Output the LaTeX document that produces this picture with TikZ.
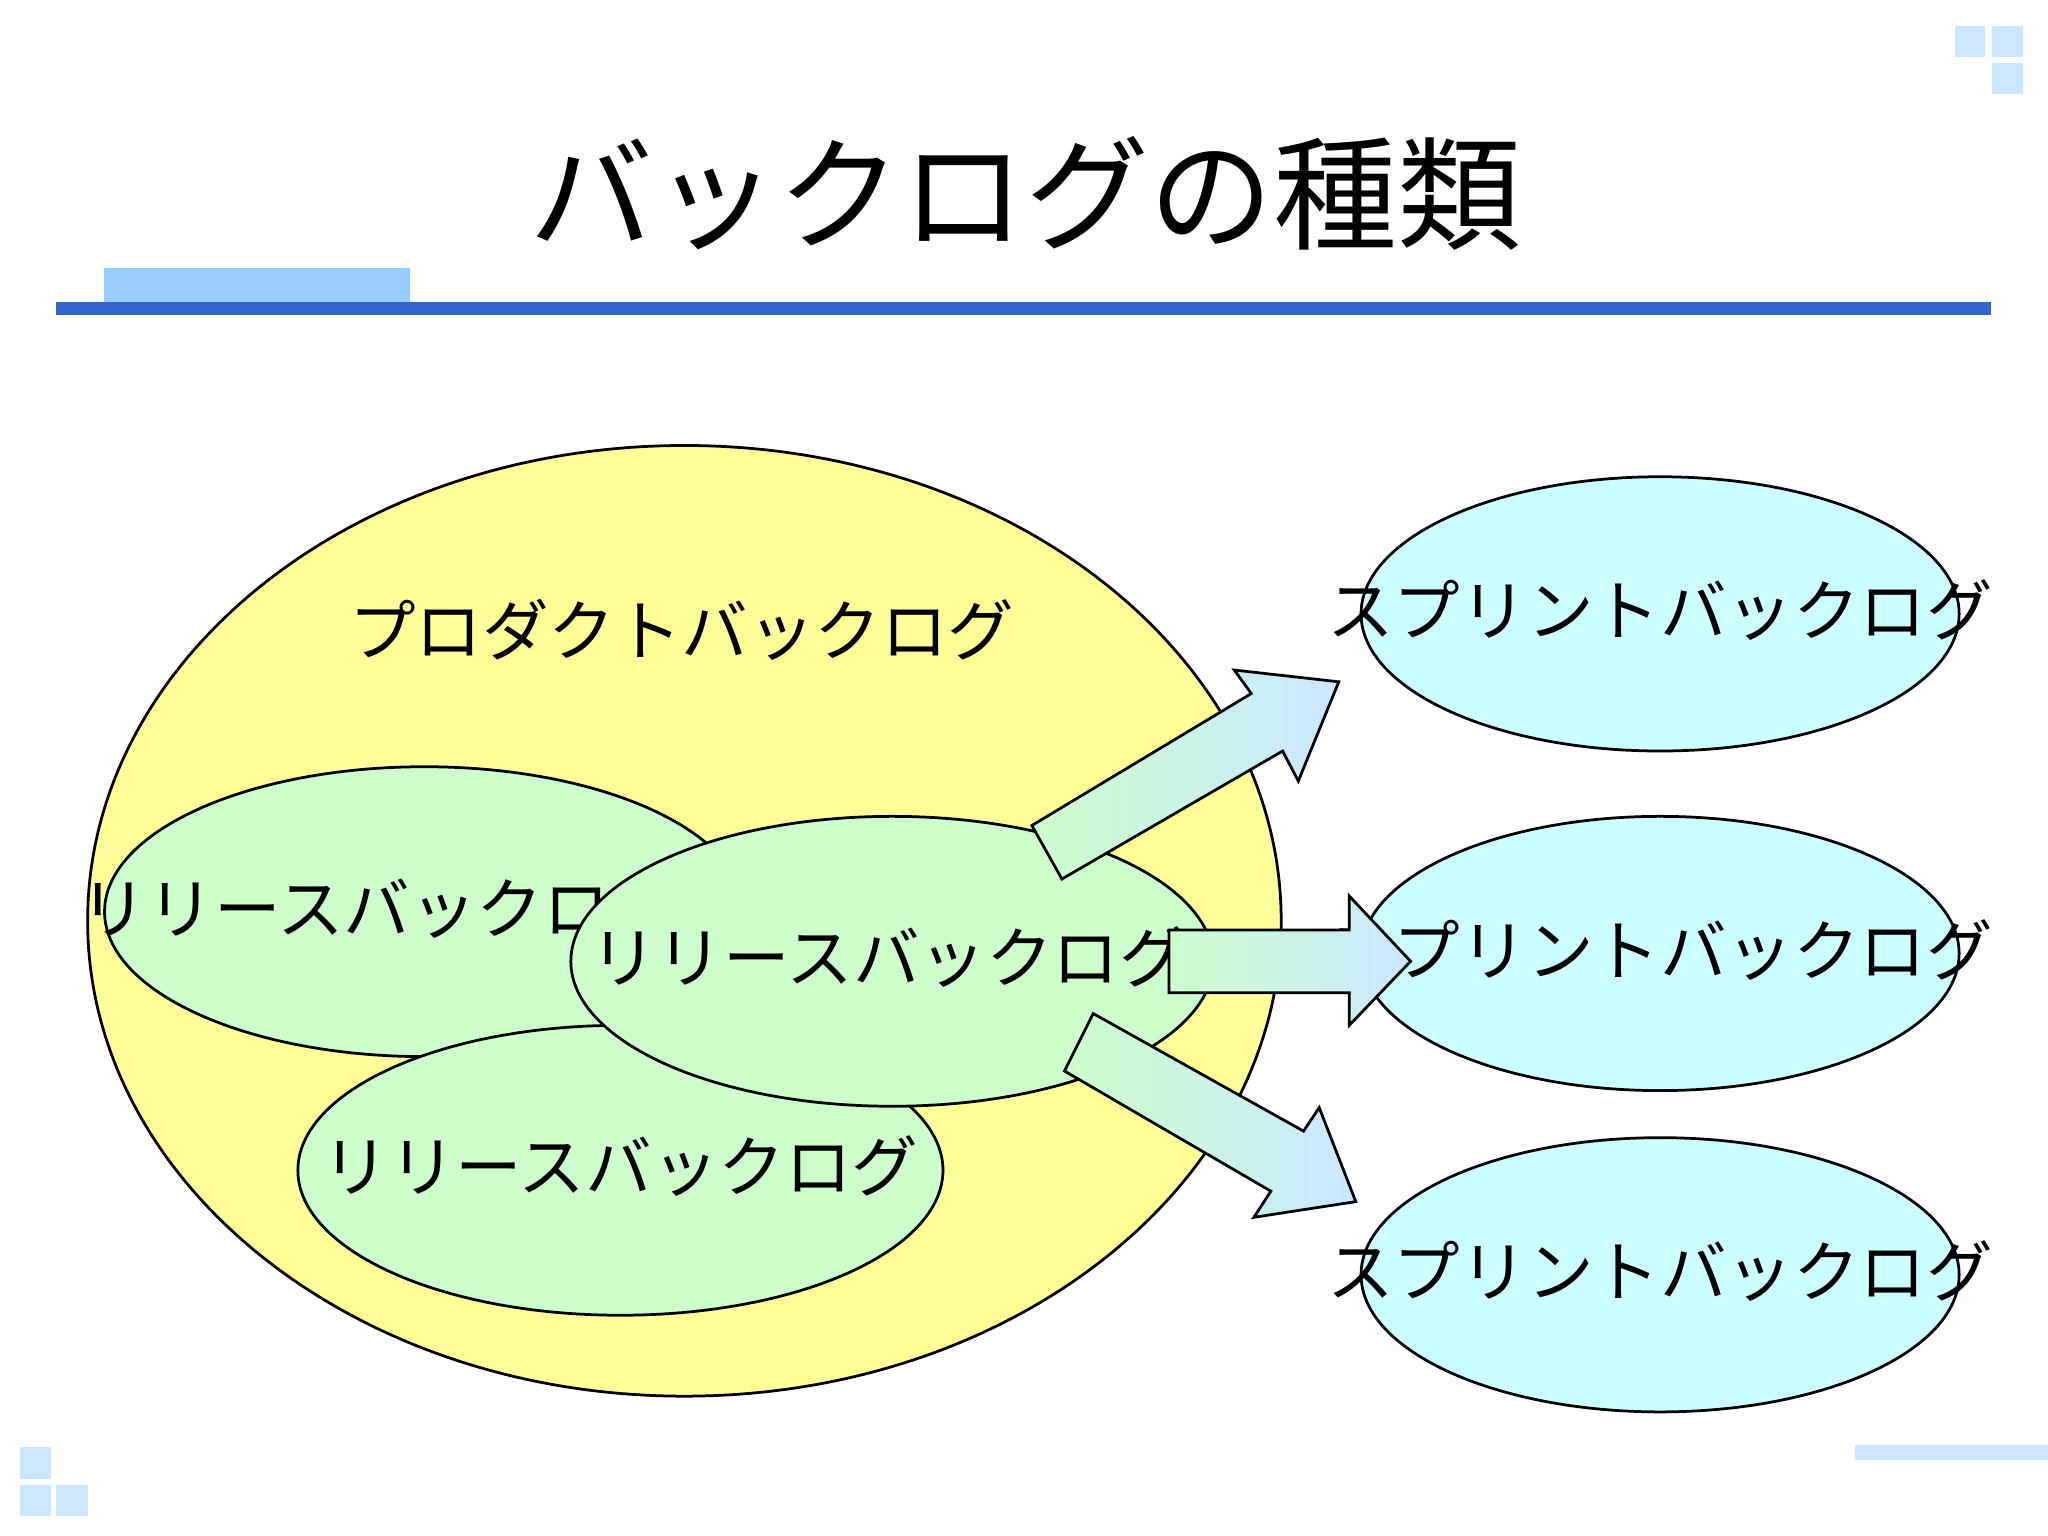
\documentclass[tikz,border=0pt]{standalone}
\usepackage{fontspec}
\setmainfont{Noto Sans CJK JP}
\usetikzlibrary{shapes.geometric}
\definecolor{ylw}{HTML}{FFFF99}
\definecolor{grn}{HTML}{CCFFCC}
\definecolor{cyn}{HTML}{CCFFFF}
\definecolor{lblue}{HTML}{CCE6FF}
\definecolor{mblue}{HTML}{99CCFF}
\definecolor{dblue}{HTML}{3366CC}
\begin{document}
\begin{tikzpicture}[x=0.02cm,y=-0.02cm,
  ell/.style={ellipse,draw=black,line width=1.2pt,inner sep=0pt},
  lbl/.style={font=\fontsize{29}{32}\selectfont},
  arr/.style={draw=black,line width=1.2pt,left color=grn,right color=lblue},
  sq/.style={fill=lblue,draw=none}]
\useasboundingbox (0,0) rectangle (1568,1176);
\fill[white] (0,0) rectangle (1568,1176);
% decorations
\fill[sq] (1497,20) rectangle (1520,44);
\fill[sq] (1525,20) rectangle (1549,44);
\fill[sq] (1525,48) rectangle (1549,72);
\fill[sq] (15,1108) rectangle (39,1132);
\fill[sq] (15,1137) rectangle (39,1161);
\fill[sq] (43,1137) rectangle (67,1161);
\fill[sq] (1420,1106) rectangle (1568,1118);
\fill[mblue] (80,205) rectangle (314,231);
\fill[dblue] (43,231) rectangle (1524,241);
\node[font=\fontsize{54}{60}\selectfont] (title) at (785,148) {バックログの種類};
% product backlog
\node[ell,fill=ylw,minimum width=914\pgflinewidth*0+18.28cm,minimum height=14.56cm] (pb) at (524,705) {};
\node[lbl] (pbt) at (522,482) {プロダクトバックログ};
% release backlogs
\node[ell,fill=grn,minimum width=9.8cm,minimum height=4.44cm] (r1) at (325,698) {};
\node[lbl] (r1t) at (290,695) {リリースバックログ};
\node[ell,fill=grn,minimum width=9.88cm,minimum height=4.44cm] (r3) at (475,896) {};
\node[lbl] (r3t) at (475,893) {リリースバックログ};
\node[ell,fill=grn,minimum width=9.84cm,minimum height=4.44cm] (r2) at (683,736) {};
\node[lbl] (r2t) at (680,733) {リリースバックログ};
% sprint backlogs
\foreach \n/\y in {s1/470,s2/730,s3/976}{
  \node[ell,fill=cyn,minimum width=9.16cm,minimum height=4.2cm] (\n) at (1271,\y) {};
  \node[lbl] (\n t) at (1271,\y-3) {スプリントバックログ};
}
% arrows
\path[arr] (790,632) -- (958,531) -- (945,513) -- (1025,522) -- (994,598) -- (982,575) -- (813,673) -- cycle;
\path[arr] (895,712) -- (1033,712) -- (1033,686) -- (1080,736) -- (1033,785) -- (1033,760) -- (895,760) -- cycle;
\path[arr] (837,776) -- (998,866) -- (1010,848) -- (1038,920) -- (960,932) -- (973,912) -- (815,820) -- cycle;
\end{tikzpicture}
\end{document}
